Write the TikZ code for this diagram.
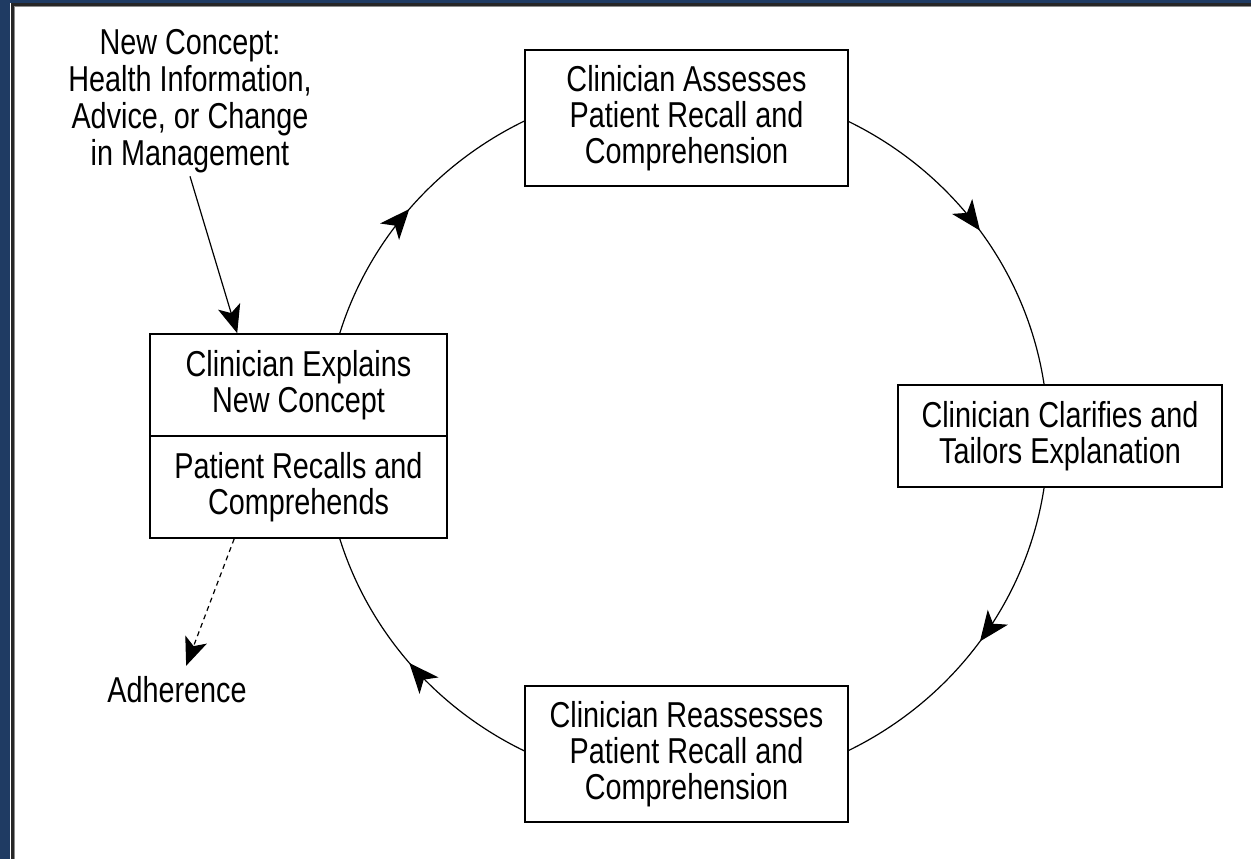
\documentclass[tikz,border=0pt]{standalone}
\usepackage{fontspec}
\setmainfont{Liberation Sans}[FakeStretch=0.8]
\usetikzlibrary{arrows.meta,decorations.markings,backgrounds}
\definecolor{frameblue}{HTML}{1F3B63}

\begin{document}
\begin{tikzpicture}[
    x=1pt, y=1pt,
    box/.style={draw, line width=1.6pt, fill=white, align=center, inner sep=0pt,
        font=\fontsize{36}{36}\selectfont},
    caption/.style={align=center, font=\fontsize{36}{37}\selectfont},
    orbit/.style={line width=1.2pt, postaction={decorate},
        decoration={markings, mark=at position 0.5 with {\arrow{Stealth[length=30pt,width=25pt,inset=8pt]}}}},
    pointer/.style={line width=1.2pt, -{Stealth[length=28pt,width=23pt,inset=7pt]}}
]
\useasboundingbox (0,0) rectangle (1251,859);

% Frame
\fill[frameblue] (0,0) rectangle (10,859);
\fill[frameblue] (0,856) rectangle (1251,859);
\fill[black!85] (11,0) rectangle (13.5,855.5);
\fill[black!85] (11,853) rectangle (1251,855.5);
\fill[black!45] (13.5,0) rectangle (14.5,853);
\fill[black!45] (13.5,852) rectangle (1251,853);

% Define boxes
\coordinate (ctr) at (686,423);
\node[box, minimum width=323pt, minimum height=136pt] (assess) at (686.5,741) {Clinician Assesses\\Patient Recall and\\Comprehension};
\node[box, minimum width=324pt, minimum height=102pt] (clarify) at (1060,423) {Clinician Clarifies and\\Tailors Explanation};
\node[box, minimum width=323pt, minimum height=136pt] (reassess) at (686.5,105) {Clinician Reassesses\\Patient Recall and\\Comprehension};
\node[box, minimum width=297pt, minimum height=102pt] (explain) at (298.5,474) {Clinician Explains\\New Concept};
\node[box, minimum width=297pt, minimum height=102pt] (recall) at (298.5,372) {Patient Recalls and\\Comprehends};
\node[caption] (concept) at (190,758) {New Concept:\\Health Information,\\Advice, or Change\\in Management};
\node[caption] (adhere) at (177,169) {Adherence};

% Define cycle
\begin{pgfonlayer}{background}
\draw[orbit] (ctr) ++(166:362 and 352) arc[start angle=166, end angle=114, x radius=362, y radius=352];
\draw[orbit] (ctr) ++(66:362 and 352) arc[start angle=66, end angle=5, x radius=362, y radius=352];
\draw[orbit] (ctr) ++(-5:362 and 352) arc[start angle=-5, end angle=-66, x radius=362, y radius=352];
\draw[orbit] (ctr) ++(-114:362 and 352) arc[start angle=-114, end angle=-166, x radius=362, y radius=352];
\end{pgfonlayer}

% Define in and out
\draw[pointer] (concept.south) -- ([xshift=88pt]explain.north west);
\draw[pointer, dash pattern=on 5pt off 4pt, shorten >=8pt] ([xshift=85pt]recall.south west) -- (adhere);

\end{tikzpicture}
\end{document}
